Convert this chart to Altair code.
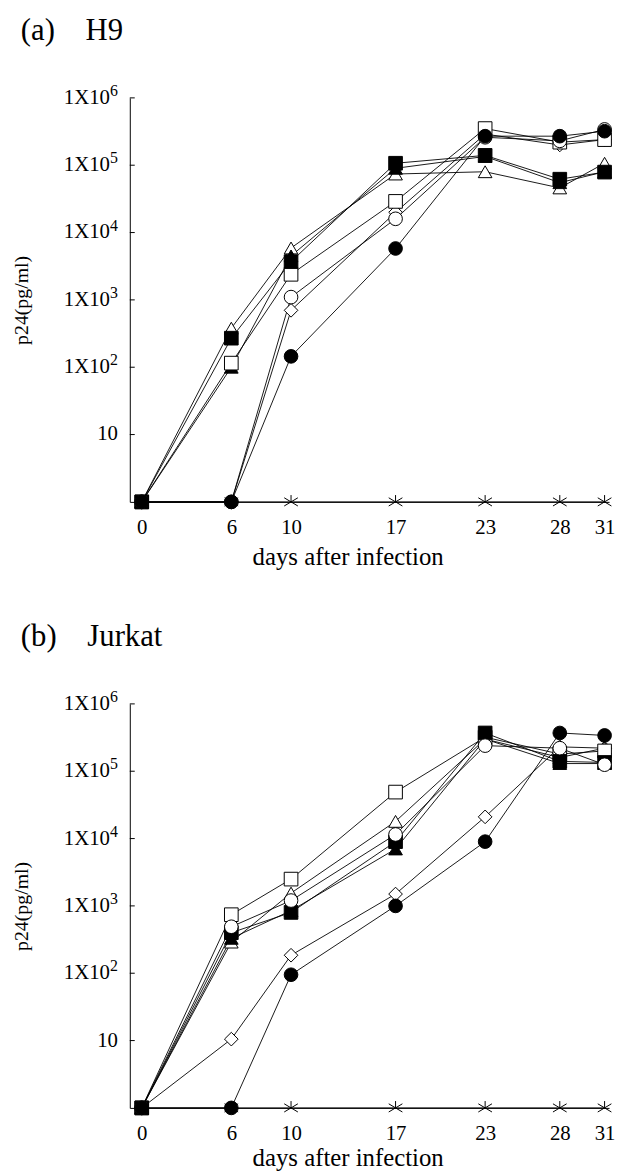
import altair as alt
import pandas as pd

FONT = "Liberation Serif"

# ---- data -------------------------------------------------------------
days = [0, 6, 10, 17, 23, 28, 31]

series_names = ["control", "open diamond", "open triangle", "closed triangle",
                "open square", "closed square", "open circle", "closed circle"]
series_shapes = ["M-1,-0.6L1,0.6M-1,0.6L1,-0.6M0,-1L0,0",
                 "diamond", "triangle-up", "triangle-up",
                 "square", "square", "circle", "circle"]
series_fills = ["white", "white", "white", "black",
                "white", "black", "white", "black"]

# (a) H9   -- p24 (pg/ml); 1 = below detection (plotted on the baseline)
h9_closed_circle = [1, 1, 145, 5800, 270000, 270000, 320000]
h9_open_circle = [1, 1, 1100, 16000, 260000, 230000, 340000]
h9_closed_square = [1, 270, 3700, 107000, 140000, 62000, 79000]
h9_open_square = [1, 115, 2400, 29000, 350000, 220000, 240000]
h9_closed_triangle = [1, 100, 4500, 90000, 135000, 55000, 80000]
h9_open_triangle = [1, 380, 5900, 74000, 80000, 46000, 107000]
h9_open_diamond = [1, 1, 700, 20000, 290000, 200000, 240000]
h9_control = [1, 1, 1, 1, 1, 1, 1]

# (b) Jurkat
jk_closed_circle = [1, 1, 95, 1000, 9000, 370000, 340000]
jk_open_circle = [1, 490, 1200, 11500, 240000, 220000, 125000]
jk_closed_square = [1, 400, 800, 9000, 370000, 140000, 135000]
jk_open_square = [1, 740, 2500, 49000, 320000, 180000, 200000]
jk_closed_triangle = [1, 330, 850, 7000, 300000, 130000, 130000]
jk_open_triangle = [1, 290, 1550, 18000, 300000, 160000, 220000]
jk_open_diamond = [1, 10.5, 185, 1500, 21000, 230000, 220000]
jk_control = [1, 1, 1, 1, 1, 1, 1]

# y-axis tick labels
tick_values = [10, 100, 1000, 10000, 100000, 1000000]
tick_base = ["10", "1X10", "1X10", "1X10", "1X10", "1X10"]
tick_exp = ["", "2", "3", "4", "5", "6"]

x_title = "days after infection"
y_title = "p24(pg/ml)"
title_a = "(a)\u00a0\u00a0\u00a0\u00a0H9"
title_b = "(b)\u00a0\u00a0\u00a0\u00a0Jurkat"


def build(series_values):
    rows = []
    for name, vals in zip(series_names, series_values):
        for d, v in zip(days, vals):
            rows.append({"series": name, "day": d, "value": v})
    return pd.DataFrame(rows)


df_h9 = build([h9_control, h9_open_diamond, h9_open_triangle, h9_closed_triangle,
               h9_open_square, h9_closed_square, h9_open_circle, h9_closed_circle])
df_jk = build([jk_control, jk_open_diamond, jk_open_triangle, jk_closed_triangle,
               jk_open_square, jk_closed_square, jk_open_circle, jk_closed_circle])
tick_df = pd.DataFrame({"value": tick_values, "base": tick_base, "exp": tick_exp})

xscale = alt.Scale(domain=[-0.8, 31.3], nice=False, zero=False)
yscale = alt.Scale(type="log", domain=[1, 1000000], nice=False)


def x_enc(title_pad):
    return alt.X("day:Q", scale=xscale,
                 axis=alt.Axis(values=days, title=x_title, ticks=False, tickSize=0,
                               labelPadding=15, labelFont=FONT, labelFontSize=21,
                               labelColor="black", labelFlush=False, labelOverlap=False,
                               titleFont=FONT, titleFontSize=25, titleFontWeight="normal",
                               titleColor="black", titlePadding=title_pad, titleX=220,
                               domainColor="black", domainWidth=1, grid=False))


y_enc = alt.Y("value:Q", scale=yscale,
              axis=alt.Axis(labels=False, ticks=False, grid=False,
                            domainColor="black", domainWidth=1,
                            title=y_title, titleFont=FONT, titleFontSize=20,
                            titleFontWeight="normal", titleColor="black",
                            titlePadding=99))

shape_scale = alt.Scale(domain=series_names, range=series_shapes)
fill_scale = alt.Scale(domain=series_names, range=series_fills)


def panel(df, title, title_pad):
    xe = x_enc(title_pad)
    base = alt.Chart(df)
    lines = base.mark_line(color="black", strokeWidth=0.9).encode(
        x=xe, y=y_enc, detail="series:N", order="day:Q")
    pts = base.mark_point(filled=True, size=190, stroke="black", strokeWidth=1,
                          opacity=1, fillOpacity=1).encode(
        x=xe, y=y_enc,
        shape=alt.Shape("series:N", scale=shape_scale, legend=None),
        fill=alt.Fill("series:N", scale=fill_scale, legend=None))
    tk = alt.Chart(tick_df).mark_rule(color="black", strokeWidth=1).encode(
        y=y_enc, x=alt.value(0), x2=alt.value(5))
    lbl = alt.Chart(tick_df).transform_filter("datum.exp != ''").mark_text(
        align="right", baseline="middle", font=FONT, fontSize=21, color="black").encode(
        y=y_enc, x=alt.value(-20), text="base:N")
    ex = alt.Chart(tick_df).transform_filter("datum.exp != ''").mark_text(
        align="left", baseline="middle", dy=-7, font=FONT, fontSize=16, color="black").encode(
        y=y_enc, x=alt.value(-20), text="exp:N")
    ten = alt.Chart(tick_df).transform_filter("datum.exp == ''").mark_text(
        align="right", baseline="middle", font=FONT, fontSize=21, color="black").encode(
        y=y_enc, x=alt.value(-12), text="base:N")
    return alt.layer(lines, pts, tk, lbl, ex, ten).properties(
        width=484, height=408,
        title=alt.TitleParams(title, font=FONT, fontSize=31, fontWeight="normal",
                              color="black", anchor="start", frame="group",
                              dx=-110, offset=36))


chart = alt.vconcat(panel(df_h9, title_a, 7), panel(df_jk, title_b, 2), spacing=53).properties(
    padding={"left": 4, "top": 2, "right": 0, "bottom": 0}
).configure_view(stroke=None)

chart.save("out.html", embed_options={"renderer": "svg", "actions": False})
